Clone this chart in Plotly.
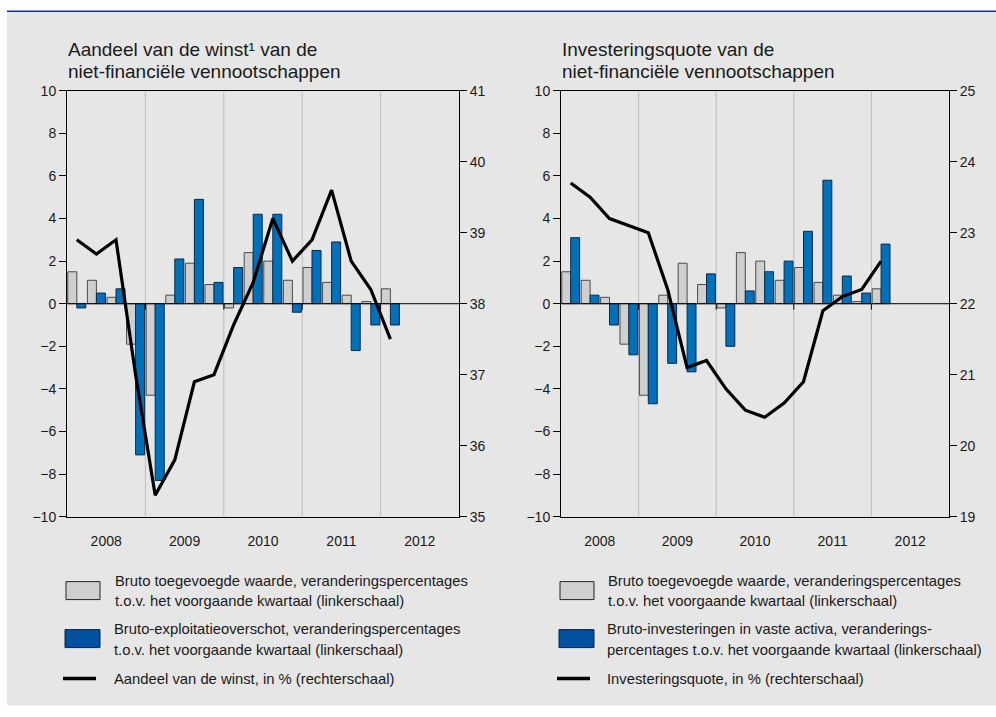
import plotly.graph_objects as go

# Quarterly series, 2008Q1 .. 2012Q1 (index 0 = 2008Q1)
quarters = list(range(17))
years = ["2008", "2009", "2010", "2011", "2012"]

# Left panel: profit share of non-financial corporations
bto_left = [1.5, 1.1, 0.3, -1.9, -4.3, 0.4, 1.9, 0.9, -0.2, 2.4, 2.0, 1.1, 1.7, 1.0, 0.4, 0.1, 0.7]
beo_left = [-0.2, 0.5, 0.7, -7.1, -8.3, 2.1, 4.9, 1.0, 1.7, 4.2, 4.2, -0.4, 2.5, 2.9, -2.2, -1.0, -1.0]
winst_aandeel = [38.9, 38.7, 38.9, 37.0, 35.3, 35.8, 36.9, 37.0, 37.7, 38.3, 39.2, 38.6, 38.9, 39.6, 38.6, 38.2, 37.5]

# Right panel: investment ratio of non-financial corporations
bto_right = [1.5, 1.1, 0.3, -1.9, -4.3, 0.4, 1.9, 0.9, -0.2, 2.4, 2.0, 1.1, 1.7, 1.0, 0.4, 0.1, 0.7]
inv_right = [3.1, 0.4, -1.0, -2.4, -4.7, -2.8, -3.2, 1.4, -2.0, 0.6, 1.5, 2.0, 3.4, 5.8, 1.3, 0.5, 2.8]
inv_quote = [23.7, 23.5, 23.2, 23.1, 23.0, 22.2, 21.1, 21.2, 20.8, 20.5, 20.4, 20.6, 20.9, 21.9, 22.1, 22.2, 22.6]

W, H = 996, 717
FONT = "Liberation Sans, Arial, sans-serif"
GREY_FILL = "#cfcfcf"
GREY_EDGE = "#4a4a4a"
BLUE_FILL = "#0070b8"
BLUE_EDGE = "#0b2a4a"
LEG_BLUE = "#0050a0"
TXT = "#1a1a1a"


def px(x):
    return x / W


def py(y):
    # layout rows are given in pixels from the top of the page
    return 1 - (y - 7.2) / 0.978 / H


fig = go.Figure()

panels = [
    dict(xa="x", ya="y", ya2="y2", bars=(bto_left, beo_left), line=winst_aandeel),
    dict(xa="x2", ya="y3", ya2="y4", bars=(bto_right, inv_right), line=inv_quote),
]

for p in panels:
    fig.add_trace(go.Bar(x=quarters, y=p["bars"][0], xaxis=p["xa"], yaxis=p["ya"],
                         marker=dict(color=GREY_FILL, line=dict(color=GREY_EDGE, width=1)),
                         offsetgroup="a", showlegend=False))
    fig.add_trace(go.Bar(x=quarters, y=p["bars"][1], xaxis=p["xa"], yaxis=p["ya"],
                         marker=dict(color=BLUE_FILL, line=dict(color=BLUE_EDGE, width=1)),
                         offsetgroup="b", showlegend=False))
    fig.add_trace(go.Scatter(x=quarters, y=p["line"], xaxis=p["xa"], yaxis=p["ya2"],
                             mode="lines", line=dict(color="black", width=3.2),
                             showlegend=False))

xcommon = dict(range=[-0.5, 19.5], tickvals=[1.5, 5.5, 9.5, 13.5, 17.5], ticktext=years,
               showgrid=False, zeroline=False, ticks="", ticklabelstandoff=12,
               showline=True, linecolor="black", linewidth=1, mirror=True,
               tickfont=dict(family=FONT, size=14, color=TXT))
ycommon = dict(showgrid=False, zeroline=False, showline=True, linecolor="black", linewidth=1,
               ticks="outside", ticklen=7, tickcolor="black", tickwidth=1,
               tickfont=dict(family=FONT, size=14, color=TXT))

dom_left = [px(67), px(459)]
dom_right = [px(561), px(949)]
dom_y = [py(516), py(90)]

fig.update_layout(
    width=W, height=H,
    margin=dict(l=0, r=0, t=0, b=0),
    paper_bgcolor="white", plot_bgcolor="white",
    barmode="group", bargap=0.08, bargroupgap=0.0,
    xaxis=dict(domain=dom_left, anchor="y", **xcommon),
    yaxis=dict(domain=dom_y, anchor="x", range=[-10, 10], dtick=2, side="left", **ycommon),
    yaxis2=dict(overlaying="y", anchor="x", side="right", range=[35, 41], dtick=1, **ycommon),
    xaxis2=dict(domain=dom_right, anchor="y3", **xcommon),
    yaxis3=dict(domain=dom_y, anchor="x2", range=[-10, 10], dtick=2, side="left", **ycommon),
    yaxis4=dict(overlaying="y3", anchor="x2", side="right", range=[19, 25], dtick=1, **ycommon),
)

shapes = [
    # grey panel and blue top rule
    dict(type="rect", xref="paper", yref="paper", x0=px(7), x1=1, y0=py(705), y1=py(11),
         fillcolor="#e6e6e6", line=dict(width=0), layer="below"),
    dict(type="line", xref="paper", yref="paper", x0=px(7), x1=1, y0=py(10.5), y1=py(10.5),
         line=dict(color="#13309a", width=1.5)),
]
for xa, ya in (("x", "y"), ("x2", "y3")):
    for xb in (3.5, 7.5, 11.5, 15.5):
        shapes.append(dict(type="line", xref=xa, yref=f"{ya} domain", x0=xb, x1=xb, y0=0, y1=1,
                           line=dict(color="#bdbdbd", width=1), layer="below"))
        shapes.append(dict(type="line", xref=xa, yref=ya, x0=xb, x1=xb, y0=0, y1=-0.28,
                           line=dict(color="black", width=1)))
    shapes.append(dict(type="line", xref=f"{xa} domain", yref=ya, x0=0, x1=1, y0=0, y1=0,
                       line=dict(color="black", width=1)))

annotations = []


def text(x, y, s, size=14.8):
    annotations.append(dict(xref="paper", yref="paper", x=px(x), y=py(y), text=s,
                            showarrow=False, xanchor="left", yanchor="middle",
                            font=dict(family=FONT, size=size, color=TXT)))


# panel titles
text(66, 49, "Aandeel van de winst¹ van de", 19)
text(66, 71, "niet-financiële vennootschappen", 19)
text(560, 49, "Investeringsquote van de", 19)
text(560, 71, "niet-financiële vennootschappen", 19)

# legends
legends = [
    dict(x0=66, tx=113, lines=[
        ["Bruto toegevoegde waarde, veranderingspercentages",
         "t.o.v. het voorgaande kwartaal (linkerschaal)"],
        ["Bruto-exploitatieoverschot, veranderingspercentages",
         "t.o.v. het voorgaande kwartaal (linkerschaal)"],
        ["Aandeel van de winst, in % (rechterschaal)"],
    ]),
    dict(x0=560, tx=606, lines=[
        ["Bruto toegevoegde waarde, veranderingspercentages",
         "t.o.v. het voorgaande kwartaal (linkerschaal)"],
        ["Bruto-investeringen in vaste activa, veranderings-",
         "percentages t.o.v. het voorgaande kwartaal (linkerschaal)"],
        ["Investeringsquote, in % (rechterschaal)"],
    ]),
]
for lg in legends:
    x0 = lg["x0"]
    shapes.append(dict(type="rect", xref="paper", yref="paper", x0=px(x0), x1=px(x0 + 34),
                       y0=py(599), y1=py(581), fillcolor=GREY_FILL,
                       line=dict(color="#222222", width=1)))
    shapes.append(dict(type="rect", xref="paper", yref="paper", x0=px(x0 - 1), x1=px(x0 + 34),
                       y0=py(647), y1=py(629), fillcolor=LEG_BLUE,
                       line=dict(color="#0b2440", width=1)))
    shapes.append(dict(type="line", xref="paper", yref="paper", x0=px(x0 - 3), x1=px(x0 + 30),
                       y0=py(678), y1=py(678), line=dict(color="black", width=3.5)))
    l1, l2, l3 = lg["lines"]
    text(lg["tx"], 580, l1[0])
    text(lg["tx"], 600, l1[1])
    text(lg["tx"] - 1, 628, l2[0])
    text(lg["tx"] - 1, 649, l2[1])
    text(lg["tx"] - 1, 678, l3[0])

fig.update_layout(shapes=shapes, annotations=annotations)

fig.write_html("out.html")
